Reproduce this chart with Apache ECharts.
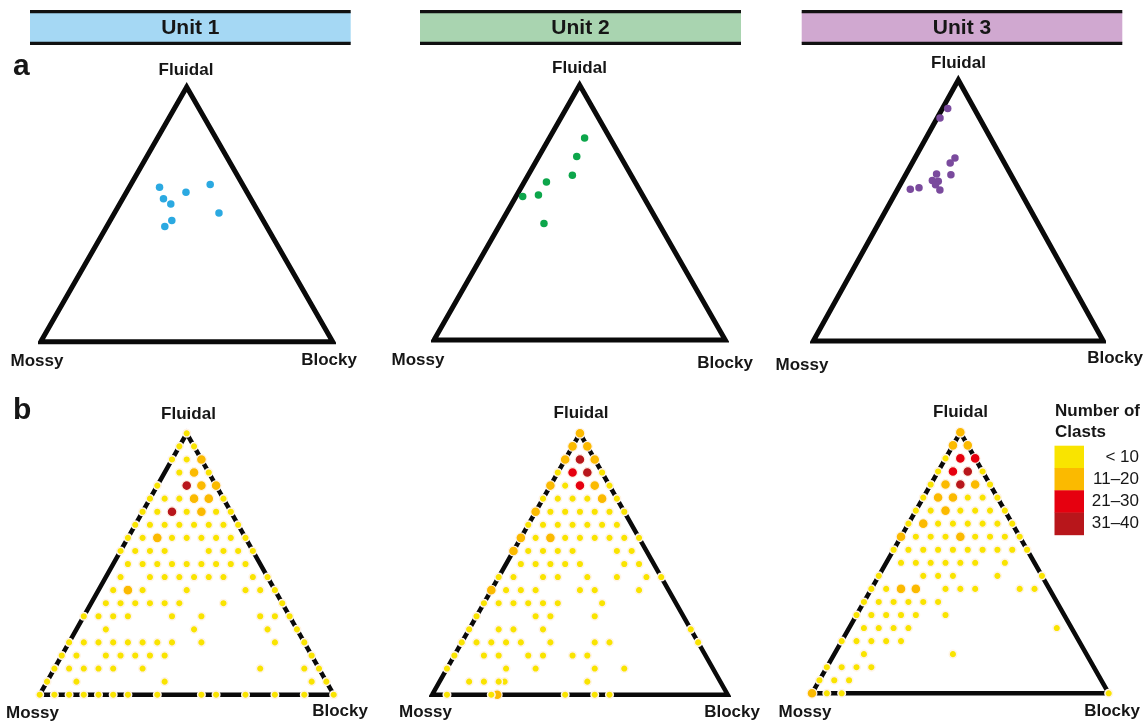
<!DOCTYPE html>
<html><head><meta charset="utf-8">
<script src="https://cdn.jsdelivr.net/npm/echarts@6.0.0/dist/echarts.min.js"></script>
<style>html,body{margin:0;padding:0;background:#fff}#c{width:1148px;height:722px}</style>
</head><body><div id="c"></div>
<script>
// ---------- DATA ----------
const vertexNames = ['Fluidal', 'Mossy', 'Blocky'];
const unitNames = ['Unit 1', 'Unit 2', 'Unit 3'];
const panelLetters = ['a', 'b'];

// Row a: individual samples, [Fluidal %, Mossy %, Blocky %]
const unit1Points = [[60.6, 29.0, 10.4], [56.1, 29.9, 14.0], [54.1, 28.4, 17.5], [58.7, 20.9, 20.4],
  [61.7, 11.1, 27.2], [50.5, 13.7, 35.8], [47.6, 31.3, 21.1], [45.2, 34.9, 19.9]];
const unit2Points = [[79.2, 8.7, 12.1], [72.0, 15.0, 13.0], [64.6, 20.2, 15.2], [62.0, 30.4, 7.6],
  [56.9, 35.7, 7.4], [56.3, 41.4, 2.3], [45.7, 39.4, 14.9]];
const unit3Points = [[89.1, 9.1, 1.8], [85.4, 13.6, 1.0], [70.1, 16.1, 13.8], [68.2, 18.7, 13.1],
  [63.7, 20.7, 15.6], [64.0, 25.5, 10.5], [61.5, 28.2, 10.3], [61.2, 26.3, 12.5], [59.9, 27.9, 12.2],
  [57.9, 27.4, 14.7], [58.7, 34.2, 7.1], [58.1, 37.5, 4.4]];

// Row b: number of clasts per 5 % cell.
// Row index r -> Fluidal = 100 - 5r ; character index k -> Blocky = 5k ; Mossy = rest.
// '.' none, 'Y' < 10, 'O' 11-20, 'R' 21-30, 'D' 31-40
const unit1Grid = [
  'Y', 'YY', 'YYO', '.YOY', 'Y.DOO', 'YYYOOY', 'YYDYOYY', 'YYYYYYYY', 'YYOYYYYYY', 'YYYY..YYYY',
  '.YYYYYYYYY.', '.Y.YYYYYY.YY', '.YOY..Y...YYY', '.YYYYYY..Y...Y', 'YYYY..Y.Y...YYY',
  '..Y.....Y....Y.Y', 'YYYYYYYY.Y....Y.Y', 'YY.YYYYY.........Y', 'YYYYY.Y.......Y..YY',
  'Y.Y.....Y.........YY', 'YYYYYYY.Y..YY.Y.Y.Y.Y'];
const unit2Grid = [
  'O', 'OO', 'ODO', 'YRDY', 'OYROY', 'YYYYOY', 'OYYYYYY', 'YYYYYYY.', 'OYOYYYYYY', 'OYYYY..YY.',
  '.YYYYY..YY.', 'YY.YY.Y.Y.YY', 'OYYY..YY..Y..', 'YYYYYY..Y.....', 'Y...YY..Y......',
  'Y.YY.Y.........Y', 'YYYYY.Y..YY.....Y', 'Y.YY.YY.YY........', 'Y...Y.Y...Y.Y......',
  '..YYY.....Y.........', '.Y..Y....Y.YY........'];
const unit2Extra = [[5, 22, 'Y'], [0, 22, 'O']]; // off-grid cells [Fluidal, Blocky, class]
const unit3Grid = [
  'O', 'OO', 'YRR', 'YRDY', 'YODOY', 'YOOYYY', 'YYOYYYY', 'YOYYYYYY', 'OYYYOYYYY', 'YYYYYYYYYY',
  '.YYYYYY.Y..', 'Y..YYY..Y..Y', 'YYOO.YYY..YY.', 'YYYYYY........', 'YYYYY.Y........',
  '.YYYY.........Y.', 'YYYYY............', '..Y.....Y.........', 'YYYY...............',
  'YYY.................', 'OYY.................Y'];
const unit3Extra = [];
const unit1Extra = [];

const classCodes = ['Y', 'O', 'R', 'D'];
const classLabels = ['< 10', '11–20', '21–30', '31–40'];
const classColors = ['#F9E400', '#FBBA00', '#E6000F', '#B8161B'];
const unitHeaderColors = ['#A5D8F4', '#A9D4B0', '#D0A8D0'];
const unitPointColors = ['#2BA9E1', '#0DA64B', '#7A4A9D'];

// ---------- LAYOUT ----------
const FONT = "'Liberation Sans', Arial, sans-serif";
const topBoxes = [[40.7, 87, 292, 254.7], [434, 85, 291.3, 255], [813.3, 80, 290, 261]];
const botBoxes = [[39.7, 433.3, 294, 261.4], [432.2, 433.3, 295.5, 261.4], [812, 432.3, 296.7, 261]];
const topLabelPos = [[[186, 70], [37, 361], [329, 360]], [[579.5, 68], [418, 360], [725, 363]], [[958.5, 63], [802, 365], [1115, 358]]];
const botLabelPos = [[[188.5, 414], [32.5, 713], [340, 711]], [[581, 413], [425.5, 712], [732, 712]], [[960.5, 412], [805, 712], [1112, 711]]];
const headerBars = [[30, 350.7], [420, 741], [801.7, 1122.3]];

// ternary -> cartesian (x along base 0..100, y = height 0..100)
function toXY(F, B) { return [B + F / 2, F]; }
const vertexTernary = [[0, 100, 0], [100, 0, 0], [0, 0, 100], [0, 100, 0], [100, 0, 0]]; // Mossy, Fluidal, Blocky, closing
const triangleData = vertexTernary.map(v => toXY(v[0], v[2]));

const grids = [], xAxes = [], yAxes = [], series = [], graphics = [];
let gi = 0;
function addPanel(box, lineW) {
  grids.push({left: box[0], top: box[1], width: box[2], height: box[3], containLabel: false});
  xAxes.push({type: 'value', gridIndex: gi, min: 0, max: 100, show: false});
  yAxes.push({type: 'value', gridIndex: gi, min: 0, max: 100, show: false});
  series.push({type: 'line', xAxisIndex: gi, yAxisIndex: gi, data: triangleData, symbol: 'none', clip: false,
    silent: true, z: 1, lineStyle: {color: '#0a0a0a', width: lineW, join: 'miter', miterLimit: 20, cap: 'butt', opacity: 1}});
  return gi++;
}

const unitPoints = [unit1Points, unit2Points, unit3Points];
const unitGrids = [unit1Grid, unit2Grid, unit3Grid];
const unitExtras = [unit1Extra, unit2Extra, unit3Extra];

for (let u = 0; u < 3; u++) {
  const idx = addPanel(topBoxes[u], 5);
  series.push({type: 'scatter', xAxisIndex: idx, yAxisIndex: idx, clip: false, z: 3, symbolSize: 7.5,
    itemStyle: {color: unitPointColors[u], opacity: 1},
    data: unitPoints[u].map(p => toXY(p[0], p[2]).concat(p))});
}
for (let u = 0; u < 3; u++) {
  const idx = addPanel(botBoxes[u], 4.5);
  const byClass = classCodes.map(() => []);
  unitExtras[u].forEach(e => byClass[classCodes.indexOf(e[2])].push(toXY(e[0], e[1]).concat([e[0], 100 - e[0] - e[1], e[1]])));
  unitGrids[u].forEach((row, r) => {
    for (let k = 0; k < row.length; k++) {
      const c = classCodes.indexOf(row[k]);
      if (c < 0) continue;
      const F = 100 - 5 * r, B = 5 * k;
      byClass[c].push(toXY(F, B).concat([F, 100 - F - B, B]));
    }
  });
  classCodes.forEach((code, c) => {
    series.push({type: 'scatter', xAxisIndex: idx, yAxisIndex: idx, clip: false, name: classLabels[c],
      z: c === 0 ? 5 : 4, symbolSize: c === 0 ? 7.6 : 9.8,
      itemStyle: {color: classColors[c], opacity: 1, borderColor: '#FFF4E8', borderWidth: c === 0 ? 1.5 : 1.2},
      data: byClass[c]});
  });
}

function txt(x, y, s, font, align) {
  graphics.push({type: 'text', silent: true, z: 10, style: {text: s, x: x, y: y, font: font,
    fill: '#161616', textAlign: align || 'center', align: align || 'center', textVerticalAlign: 'middle', verticalAlign: 'middle'}});
}
// header bars
for (let u = 0; u < 3; u++) {
  const [x0, x1] = headerBars[u];
  graphics.push({type: 'rect', silent: true, shape: {x: x0, y: 12, width: x1 - x0, height: 31}, style: {fill: unitHeaderColors[u]}});
  graphics.push({type: 'line', silent: true, shape: {x1: x0, y1: 11.7, x2: x1, y2: 11.7}, style: {stroke: '#111', lineWidth: 3.2}});
  graphics.push({type: 'line', silent: true, shape: {x1: x0, y1: 43.3, x2: x1, y2: 43.3}, style: {stroke: '#111', lineWidth: 3.2}});
  txt((x0 + x1) / 2, 28.5, unitNames[u], 'bold 21px ' + FONT);
}
// panel letters
txt(13, 67, panelLetters[0], 'bold 30px ' + FONT, 'left');
txt(13, 411, panelLetters[1], 'bold 30px ' + FONT, 'left');
// vertex labels
for (let u = 0; u < 3; u++) {
  for (let v = 0; v < 3; v++) {
    txt(topLabelPos[u][v][0], topLabelPos[u][v][1], vertexNames[v], 'bold 17px ' + FONT);
    txt(botLabelPos[u][v][0], botLabelPos[u][v][1], vertexNames[v], 'bold 17px ' + FONT);
  }
}
// legend
txt(1055, 411, 'Number of', 'bold 17px ' + FONT, 'left');
txt(1055, 432, 'Clasts', 'bold 17px ' + FONT, 'left');
const swH = 22.3;
classColors.forEach((col, c) => {
  graphics.push({type: 'rect', silent: true, shape: {x: 1054.5, y: 445.7 + c * swH, width: 29.5, height: swH + 0.3}, style: {fill: col}});
  txt(1139, 445.7 + c * swH + swH / 2, classLabels[c], '17px ' + FONT, 'right');
});

const chart = echarts.init(document.getElementById('c'), null, {renderer: 'canvas'});
chart.setOption({
  animation: false,
  backgroundColor: '#ffffff',
  grid: grids, xAxis: xAxes, yAxis: yAxes, series: series,
  graphic: {elements: graphics}
});
</script></body></html>
